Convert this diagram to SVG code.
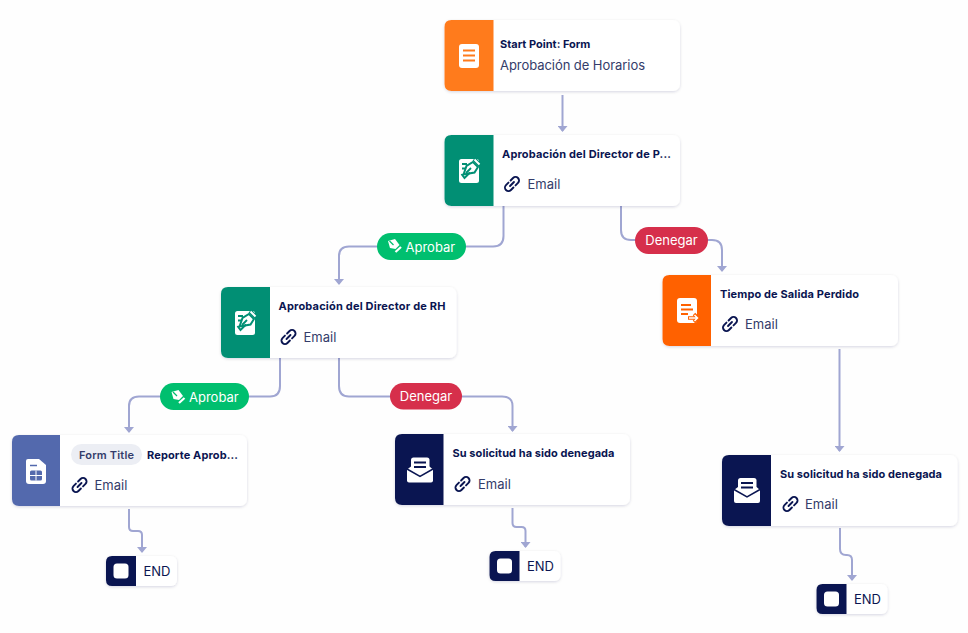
<svg xmlns="http://www.w3.org/2000/svg" width="968" height="633" viewBox="0 0 968 633">
<style>
.card{fill:#fff;filter:url(#sh)}
.t{font-family:"Inter","Liberation Sans",sans-serif;font-weight:700;font-size:11px;fill:#0a1551}
.s{font-family:"Inter","Liberation Sans",sans-serif;font-size:13px;fill:#343c6a}
.p{font-family:"Inter","Liberation Sans",sans-serif;font-size:13px;fill:#fff}
.e{font-family:"Inter","Liberation Sans",sans-serif;font-size:13px;fill:#0a1551}
.c{fill:none;stroke:#a0a6d2;stroke-width:2;marker-end:url(#a)}
.l{fill:none;stroke:#0a1551;stroke-width:1.900;stroke-linecap:round}
</style>
<defs>
<filter id="sh" x="-10%" y="-20%" width="120%" height="140%"><feDropShadow dx="0" dy="1" stdDeviation="1.500" flood-color="#0a1551" flood-opacity=".16"/></filter>
<marker id="a" markerUnits="userSpaceOnUse" markerWidth="10" markerHeight="6" refX="5" refY="5" orient="0" viewBox="0 0 10 6"><path d="M0 0H10L5 6Z" fill="#a0a6d2"/></marker>
<g id="link"><g transform="translate(8.500 8) rotate(-45)"><path class="l" d="M-1.500-3.500H-5a3.500 3.500 0 0 0 0 7H-1.500"/><path class="l" d="M1.500-3.500H5a3.500 3.500 0 0 1 0 7H1.500"/><path class="l" d="M-2.800 0H2.800"/></g></g>
<g id="sign"><rect x="0" y="1" width="20" height="24" rx="2.500" fill="#fff"/><path d="M4.500 16.500 7.500 8 14 4 19 9 15.500 14.500Z" fill="#fff" stroke="#018f74" stroke-width="2"/><path d="M15 1 21 7" stroke="#018f74" stroke-width="4"/><path d="M15.500 1.500 20.500 6.500" stroke="#fff" stroke-width="2"/><path d="M12 10 7 15M3 6H8M3 10.500H6" fill="none" stroke="#018f74" stroke-width="1.800"/><path d="M2.500 16 5.500 20 11 14.500" fill="none" stroke="#018f74" stroke-width="2"/></g>
<g id="mail"><rect x="4" y="0" width="18.500" height="14" rx="2.500" fill="#fff"/><path d="M0 12 4 9H22.500L26 12V23Q26 25 24 25H2Q0 25 0 23Z" fill="#fff"/><path d="M7 5H19M7 9.500H19" stroke="#0a1551" stroke-width="2"/><path d="M0 11.500 13 19 26 11.500" fill="none" stroke="#0a1551" stroke-width="1.500"/></g>
<g id="pen"><path d="M0 2 7 0 11.500 6 7.500 10 2 9Z" fill="#fff"/><path d="M1.500 2 5.500 6" stroke="#00bf6f" stroke-width="1.300"/><path d="M7.500 13 13 8" stroke="#fff" stroke-width="2.200"/></g>
<g id="end"><rect class="card" x="0" y="0" width="71" height="30" rx="6"/><path d="M6 0H30V30H6Q0 30 0 24V6Q0 0 6 0Z" fill="#0a1551"/><rect x="7.500" y="7.500" width="15" height="15" rx="3.500" fill="#fff"/><text class="e" x="37.500" y="20">END</text></g>
</defs>
<rect width="968" height="633" fill="#fefefe"/>
<g id="connectors">
<path class="c" d="M562.500 95V131"/>
<path class="c" d="M503.500 206V236Q503.500 246.500 493 246.500H349Q339 246.500 339 256V284"/>
<path class="c" d="M621 206V230Q621 240 631 240H712Q722 240 722 250V271"/>
<path class="c" d="M280 358V386Q280 396.500 270 396.500H139Q129 396.500 129 406V432"/>
<path class="c" d="M339 358V386Q339 396.500 349 396.500H502Q512.500 396.500 512.500 406V431"/>
<path class="c" d="M129 509V527Q129 531 133 531H138Q142 531 142 535V552"/>
<path class="c" d="M512.500 508V523Q512.500 527 516.500 527H521.500Q525.500 527 525.500 531V547"/>
<path class="c" d="M839.500 349V451"/>
<path class="c" d="M840 528V549Q840 555 846 555H847Q852 555 852 560V580"/>
</g>
<g id="pill-aprobar-1"><rect x="377" y="233" width="89" height="27" rx="13.500" fill="#00bf6f"/><use href="#pen" x="388" y="239"/><text class="p" x="405.500" y="251.500">Aprobar</text></g>
<g id="pill-denegar-1"><rect x="635" y="227" width="73" height="27" rx="13.500" fill="#d62f4b"/><text class="p" x="671.500" y="245" text-anchor="middle">Denegar</text></g>
<g id="pill-aprobar-2"><rect x="160" y="383" width="89" height="27" rx="13.500" fill="#00bf6f"/><use href="#pen" x="171.500" y="390"/><text class="p" x="189" y="401.500">Aprobar</text></g>
<g id="pill-denegar-2"><rect x="390" y="383" width="72" height="26.500" rx="13.250" fill="#d62f4b"/><text class="p" x="426" y="401" text-anchor="middle">Denegar</text></g>
<g id="node-start">
<rect class="card" x="444.500" y="20" width="235.500" height="71" rx="7"/>
<path d="M451.500 20H493.500V91H451.500Q444.500 91 444.500 84V27Q444.500 20 451.500 20Z" fill="#ff7b1c"/>
<rect x="459" y="44" width="20" height="24" rx="3" fill="#fff"/><path d="M463 50.500H475M463 55.500H475M463 60.500H475" stroke="#ff7b1c" stroke-width="2"/>
<text class="t" x="500" y="48">Start Point: Form</text><text class="s" x="500" y="70" textLength="145">Aprobación de Horarios</text>
</g>
<g id="node-director-p">
<rect class="card" x="444.500" y="135" width="235.500" height="71" rx="7"/>
<path d="M451.500 135H493.500V206H451.500Q444.500 206 444.500 199V142Q444.500 135 451.500 135Z" fill="#018f74"/>
<use href="#sign" x="459" y="158"/>
<text class="t" x="502" y="158" textLength="169">Aprobación del Director de P...</text><use href="#link" x="503.500" y="176"/><text class="s" x="527.500" y="189">Email</text>
</g>
<g id="node-director-rh">
<rect class="card" x="221" y="287" width="235.500" height="71" rx="7"/>
<path d="M228 287H270V358H228Q221 358 221 351V294Q221 287 228 287Z" fill="#018f74"/>
<use href="#sign" x="235" y="310"/>
<text class="t" x="278.500" y="310" textLength="167">Aprobación del Director de RH</text><use href="#link" x="280" y="329"/><text class="s" x="303.500" y="342">Email</text>
</g>
<g id="node-tiempo">
<rect class="card" x="662.500" y="275" width="235.500" height="71" rx="7"/>
<path d="M669.500 275H711V346H669.500Q662.500 346 662.500 339V282Q662.500 275 669.500 275Z" fill="#ff6100"/>
<rect x="677" y="298" width="20" height="25" rx="3" fill="#fff"/><path d="M681 305H691M681 309.500H693M681 314H688" stroke="#ff6100" stroke-width="2"/><path d="M688 318H697M694 314 698 318 694 322" fill="none" stroke="#ff6100" stroke-width="3.500"/><path d="M689 318H697M694.500 315 697.500 318 694.500 321" fill="none" stroke="#fff" stroke-width="1.500"/>
<text class="t" x="720" y="298" textLength="139">Tiempo de Salida Perdido</text><use href="#link" x="721.500" y="316"/><text class="s" x="745" y="329">Email</text>
</g>
<g id="node-reporte">
<rect class="card" x="12" y="435" width="235" height="71" rx="7"/>
<path d="M19 435H60V506H19Q12 506 12 499V442Q12 435 19 435Z" fill="#5369ad"/>
<path d="M28 459H39L46 465V481Q46 484 43 484H29Q26 484 26 481V461Q26 459 28 459Z" fill="#fff"/><rect x="30" y="470.500" width="12" height="10" rx="1.500" fill="#5369ad"/><path d="M36 470.500V480.500M30 475.500H42" stroke="#fff"/><path d="M30 465.500H37" stroke="#5369ad" stroke-width="1.500"/>
<rect x="71" y="444" width="71" height="21" rx="10.500" fill="#eceef4"/>
<text class="t" x="79" y="458.500" style="fill:#343c6a;font-weight:600" textLength="55">Form Title</text>
<text class="t" x="147" y="458.500" textLength="91">Reporte Aprob...</text><use href="#link" x="71" y="477"/><text class="s" x="94.500" y="490">Email</text>
</g>
<g id="node-denegada-1">
<rect class="card" x="395" y="434" width="235" height="71" rx="7"/>
<path d="M402 434H443.500V505H402Q395 505 395 498V441Q395 434 402 434Z" fill="#0a1551"/>
<use href="#mail" x="407" y="457.500"/>
<text class="t" x="452.500" y="457" textLength="162">Su solicitud ha sido denegada</text><use href="#link" x="454" y="476"/><text class="s" x="478" y="489">Email</text>
</g>
<g id="node-denegada-2">
<rect class="card" x="722" y="455" width="235.500" height="71" rx="7"/>
<path d="M729 455H771V526H729Q722 526 722 519V462Q722 455 729 455Z" fill="#0a1551"/>
<use href="#mail" x="734" y="478"/>
<text class="t" x="780" y="478" textLength="162">Su solicitud ha sido denegada</text><use href="#link" x="782" y="496"/><text class="s" x="805" y="509">Email</text>
</g>
<g id="end-1"><use href="#end" x="106" y="556"/></g>
<g id="end-2"><use href="#end" x="489.500" y="551"/></g>
<g id="end-3"><use href="#end" x="816.500" y="584"/></g>
</svg>
